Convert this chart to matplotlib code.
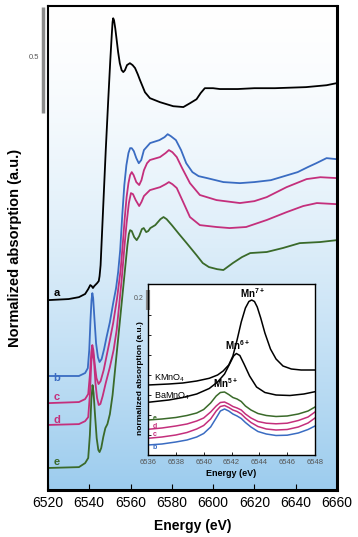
import matplotlib.pyplot as plt
import numpy as np

plt.rcParams['font.family'] = ['Liberation Sans', 'DejaVu Sans']
plt.rcParams['mathtext.default'] = 'regular'

BLUE = '#3a6cc2'
MAGENTA = '#c42f7c'
GREEN = '#3a6a2a'

# main spectra (energy in eV, normalized absorption with vertical offsets)
e_a = [6520, 6530, 6535, 6538, 6539.5, 6540.5, 6541.2, 6541.8, 6542.4, 6542.9,
       6543.8, 6544.6, 6545.0, 6545.5, 6546.8, 6548.0, 6549.2, 6550.2, 6550.9, 6551.3,
       6551.6, 6552.0, 6552.6, 6553.3, 6554.0, 6554.8, 6555.7, 6556.5, 6557.3, 6558.3,
       6559.7, 6561, 6562.2, 6563.5, 6564.6, 6567, 6569.4, 6574.3, 6580.7, 6585.6,
       6588.8, 6592, 6594, 6596, 6600, 6603.3, 6612, 6620, 6630, 6645, 6655, 6660]
mu_a = [0.896, 0.901, 0.910, 0.925, 0.948, 0.967, 0.962, 0.953, 0.962, 0.967,
        0.976, 0.986, 1.009, 1.061, 1.344, 1.604, 1.840, 2.028, 2.146, 2.208,
        2.226, 2.217, 2.179, 2.123, 2.066, 2.014, 1.981, 1.972, 1.981, 2.005,
        2.014, 2.005, 1.991, 1.962, 1.934, 1.877, 1.849, 1.830, 1.811, 1.807,
        1.825, 1.844, 1.873, 1.896, 1.896, 1.892, 1.892, 1.896, 1.896, 1.901, 1.910, 1.920]

e_b = [6520, 6535, 6538, 6539.3, 6540.0, 6540.6, 6541.1, 6541.5, 6541.9, 6542.5,
       6543.3, 6544.2, 6545.0, 6546.0, 6547.2, 6548.4, 6550.0, 6551.6, 6553.0, 6554.0,
       6555.0, 6556.0, 6557.0, 6558.0, 6559.0, 6559.8, 6560.6, 6561.6, 6562.8, 6564.0,
       6565.2, 6566.5, 6569.5, 6574.0, 6576.5, 6578.0, 6579.5, 6582.0, 6584.5, 6587.0,
       6590.0, 6593.0, 6597.0, 6605.0, 6613.0, 6620.0, 6628.0, 6641.0, 6646.0, 6650.0,
       6655.0, 6660.0]
mu_b = [0.538, 0.538, 0.552, 0.575, 0.660, 0.802, 0.896, 0.929, 0.906, 0.811,
        0.693, 0.627, 0.604, 0.618, 0.665, 0.722, 0.792, 0.882, 0.953, 1.028,
        1.132, 1.297, 1.439, 1.533, 1.590, 1.613, 1.613, 1.599, 1.566, 1.542,
        1.557, 1.604, 1.637, 1.651, 1.665, 1.679, 1.670, 1.651, 1.604, 1.542,
        1.500, 1.481, 1.472, 1.453, 1.448, 1.453, 1.462, 1.500, 1.524, 1.542,
        1.566, 1.561]

e_c = [6520, 6535, 6538, 6539.5, 6540.3, 6541.0, 6541.5, 6542.0, 6542.7, 6543.5,
       6544.5, 6545.5, 6547.0, 6548.5, 6550.0, 6551.6, 6553.5, 6555.2, 6556.2, 6557.2,
       6558.1, 6559.0, 6559.8, 6560.6, 6561.5, 6562.8, 6564.2, 6565.3, 6566.5, 6568.0,
       6569.4, 6574.3, 6577.0, 6578.6, 6580.3, 6582.4, 6585.0, 6588.8, 6593.6, 6601.7,
       6613.0, 6620.0, 6626.0, 6635.6, 6645.3, 6652.0, 6659.5]
mu_c = [0.410, 0.415, 0.429, 0.453, 0.542, 0.651, 0.684, 0.660, 0.590, 0.528,
        0.500, 0.514, 0.566, 0.637, 0.708, 0.788, 0.906, 1.038, 1.156, 1.283,
        1.382, 1.448, 1.486, 1.500, 1.486, 1.453, 1.439, 1.462, 1.509, 1.542,
        1.557, 1.571, 1.590, 1.604, 1.594, 1.571, 1.519, 1.448, 1.392, 1.368,
        1.354, 1.363, 1.382, 1.429, 1.467, 1.476, 1.472]

e_d = [6520, 6535, 6538, 6539.5, 6540.3, 6541.0, 6541.7, 6542.3, 6543.0, 6543.8,
       6544.6, 6545.4, 6546.5, 6548.0, 6550.0, 6551.8, 6553.3, 6554.5, 6555.7, 6557.0,
       6558.1, 6559.2, 6560.2, 6561.2, 6562.5, 6564.2, 6565.3, 6566.5, 6569.4, 6574.3,
       6577.0, 6578.6, 6580.3, 6582.4, 6585.5, 6588.8, 6593.6, 6601.7, 6608.0, 6616.0,
       6626.0, 6635.6, 6643.7, 6650.3, 6659.5]
mu_d = [0.307, 0.311, 0.325, 0.344, 0.448, 0.604, 0.660, 0.613, 0.505, 0.434,
        0.401, 0.406, 0.443, 0.505, 0.580, 0.660, 0.755, 0.873, 0.991, 1.142,
        1.259, 1.354, 1.401, 1.396, 1.368, 1.340, 1.359, 1.387, 1.415, 1.429,
        1.443, 1.453, 1.443, 1.425, 1.359, 1.288, 1.250, 1.241, 1.236, 1.241,
        1.274, 1.311, 1.340, 1.354, 1.349]

e_e = [6520, 6535, 6538, 6539.5, 6540.3, 6541.0, 6541.6, 6542.1, 6542.8, 6543.6,
       6544.4, 6545.0, 6545.8, 6546.8, 6547.8, 6548.8, 6550.0, 6551.3, 6552.5, 6553.7,
       6554.9, 6556.1, 6557.3, 6558.5, 6559.2, 6559.8, 6560.6, 6561.8, 6563.0, 6564.2,
       6565.5, 6566.4, 6567.6, 6568.6, 6569.6, 6572.0, 6574.5, 6576.0, 6577.5, 6580.0,
       6583.5, 6587.2, 6592.0, 6595.0, 6598.0, 6602.0, 6605.0, 6609.6, 6614.0, 6618.0,
       6626.0, 6633.9, 6642.0, 6651.8, 6660.0]
mu_e = [0.104, 0.108, 0.127, 0.151, 0.259, 0.424, 0.495, 0.458, 0.354, 0.245,
        0.189, 0.179, 0.198, 0.250, 0.292, 0.311, 0.358, 0.448, 0.566, 0.684,
        0.802, 0.920, 1.038, 1.156, 1.208, 1.226, 1.222, 1.193, 1.179, 1.198,
        1.231, 1.236, 1.217, 1.222, 1.236, 1.250, 1.278, 1.288, 1.278, 1.250,
        1.208, 1.165, 1.108, 1.071, 1.052, 1.042, 1.038, 1.071, 1.099, 1.118,
        1.123, 1.142, 1.165, 1.170, 1.179]

main_series = [(e_a, mu_a, 'black', 'a', 0.929),
               (e_b, mu_b, BLUE, 'b', 0.528),
               (e_c, mu_c, MAGENTA, 'c', 0.439),
               (e_d, mu_d, MAGENTA, 'd', 0.330),
               (e_e, mu_e, GREEN, 'e', 0.132)]

# pre-edge inset
pre_k = [6536, 6537.5, 6538.5, 6539.5, 6540.4, 6541.0, 6541.4, 6541.8, 6542.1, 6542.4,
         6542.7, 6543.0, 6543.25, 6543.45, 6543.65, 6543.85, 6544.1, 6544.4, 6544.8,
         6545.2, 6545.7, 6546.3, 6547, 6548]
kmno4 = [0.70, 0.71, 0.72, 0.74, 0.767, 0.80, 0.84, 0.90, 0.99, 1.15,
         1.33, 1.47, 1.535, 1.55, 1.535, 1.48, 1.37, 1.22, 1.06,
         0.96, 0.89, 0.86, 0.85, 0.85]
pre_ba = [6536, 6537.5, 6538.5, 6539.5, 6540.4, 6541.0, 6541.5, 6541.9, 6542.15, 6542.35,
          6542.6, 6542.9, 6543.3, 6543.8, 6544.4, 6545.2, 6546.2, 6547.2, 6548]
bamno4 = [0.527, 0.55, 0.575, 0.61, 0.665, 0.73, 0.81, 0.92, 0.99, 1.015,
          0.995, 0.91, 0.79, 0.68, 0.625, 0.60, 0.595, 0.61, 0.633]

pre_e = [6536, 6537, 6538, 6538.8, 6539.5, 6540.0, 6540.5, 6540.9, 6541.2, 6541.5,
         6541.8, 6542.1, 6542.4, 6542.7, 6543.0, 6543.4, 6543.9, 6544.5, 6545.2, 6546.0,
         6546.8, 6547.5, 6548]
pre_mu_e = [0.35, 0.36, 0.375, 0.395, 0.42, 0.455, 0.52, 0.59, 0.625, 0.63,
            0.605, 0.575, 0.56, 0.535, 0.49, 0.45, 0.415, 0.395, 0.385, 0.39,
            0.41, 0.44, 0.48]
pre_mu_d = [0.257, 0.27, 0.29, 0.31, 0.34, 0.37, 0.43, 0.49, 0.525, 0.53,
            0.51, 0.485, 0.47, 0.45, 0.41, 0.37, 0.335, 0.318, 0.312, 0.318,
            0.345, 0.38, 0.43]
pre_mu_c = [0.167, 0.18, 0.20, 0.225, 0.26, 0.295, 0.36, 0.44, 0.485, 0.495,
            0.475, 0.45, 0.435, 0.41, 0.37, 0.325, 0.285, 0.26, 0.25, 0.255,
            0.28, 0.32, 0.37]
pre_mu_b = [0.10, 0.11, 0.13, 0.15, 0.18, 0.215, 0.28, 0.37, 0.44, 0.46,
            0.44, 0.41, 0.39, 0.365, 0.325, 0.28, 0.235, 0.21, 0.195, 0.198,
            0.22, 0.255, 0.29]

inset_series = [(pre_mu_b, BLUE, 'b', 0.075),
                (pre_mu_c, MAGENTA, 'c', 0.20),
                (pre_mu_d, MAGENTA, 'd', 0.285),
                (pre_mu_e, GREEN, 'e', 0.365)]

main_ticks = [6520, 6540, 6560, 6580, 6600, 6620, 6640, 6660]
inset_ticks = [6536, 6538, 6540, 6542, 6544, 6546, 6548]

fig = plt.figure(figsize=(3.58, 5.37), dpi=100)
ax = fig.add_axes([0.134, 0.0875, 0.807, 0.901])
ax.set_xlim(6520, 6660)
ax.set_ylim(0, 2.283)

# white to light blue background
s = np.linspace(0, 1, 256)[:, None]
w = s ** 1.5
top = np.array([1.0, 1.0, 1.0])
bot = np.array([156, 204, 238]) / 255
grad = (1 - w)[..., None] * top + w[..., None] * bot
ax.imshow(grad, extent=[0, 1, 0, 1], transform=ax.transAxes, aspect='auto', zorder=0)

for en, mu, col, lab, ly in main_series:
    ax.plot(en, mu, color=col, lw=1.3, zorder=2)
    ax.text(6524.4, ly, lab, color=col, fontsize=8, fontweight='bold', ha='center', va='center')

# 0.5 scale bar
x0, x1 = ax.get_xlim()
y0, y1 = ax.get_ylim()
bar_x = x0 - (x1 - x0) * 0.017
ax.plot([bar_x, bar_x], [y1 - 0.005, y1 - 0.505], color='#8a8a8a', lw=2.5, clip_on=False,
        solid_capstyle='butt')
ax.text(x0 - (x1 - x0) * 0.05, y1 - 0.24, '0.5', fontsize=5.5, color='#555555',
        ha='center', va='center')

ax.set_xticks(main_ticks)
ax.set_xticklabels([str(t) for t in main_ticks])
ax.set_yticks([])
ax.tick_params(axis='x', direction='in', length=4, width=0.8, labelsize=10, pad=4)
for sp in ax.spines.values():
    sp.set_linewidth(1.5)
ax.spines['right'].set_linewidth(2.2)
ax.spines['bottom'].set_linewidth(2.2)
ax.set_xlabel('Energy (eV)', fontsize=10, fontweight='bold', labelpad=7)
fig.text(15 / 358, 1 - 248 / 537, 'Normalized absorption (a.u.)', rotation=90,
         fontsize=10.5, fontweight='bold', ha='center', va='center')

# inset
ins = fig.add_axes([148 / 358, 82 / 537, 167 / 358, 171 / 537])
ins.set_facecolor('white')
ins.set_xlim(6536, 6548)
ins.set_ylim(0, 1.71)
ins.plot(pre_k, kmno4, color='black', lw=1.1)
ins.plot(pre_ba, bamno4, color='black', lw=1.1)
for mu, col, lab, ly in inset_series:
    ins.plot(pre_e, mu, color=col, lw=1.1)
    ins.text(6536.5, ly, lab, color=col, fontsize=5, fontweight='bold', ha='center', va='center')
ins.text(6536.45, 0.77, 'KMnO$_4$', fontsize=6.5, ha='left', va='center')
ins.text(6536.45, 0.59, 'BaMnO$_4$', fontsize=6.5, ha='left', va='center')
ins.text(6543.5, 1.62, 'Mn$^{7+}$', fontsize=7, fontweight='bold', ha='center', va='center')
ins.text(6542.4, 1.10, 'Mn$^{6+}$', fontsize=7, fontweight='bold', ha='center', va='center')
ins.text(6541.6, 0.72, 'Mn$^{5+}$', fontsize=7, fontweight='bold', ha='center', va='center')

ix0, ix1 = ins.get_xlim()
iy0, iy1 = ins.get_ylim()
ins.plot([ix0, ix0], [iy1 - 0.06, iy1 - 0.26], color='#8a8a8a', lw=3, clip_on=False,
         solid_capstyle='butt')
ins.text(ix0 - (ix1 - ix0) * 0.055, iy1 - 0.15, '0.2', fontsize=5, color='#555555',
         ha='center', va='center')

ins.set_xticks(inset_ticks)
ins.set_xticklabels([str(t) for t in inset_ticks])
ins.set_yticks(np.arange(0.2, 1.6, 0.2))
ins.set_yticklabels([])
ins.tick_params(direction='in', length=2.5, width=0.6, labelsize=5.5, labelcolor='#555555', pad=3)
for sp in ins.spines.values():
    sp.set_linewidth(1.0)
ins.set_xlabel('Energy (eV)', fontsize=6.5, fontweight='bold', labelpad=2)
fig.text(141 / 358, 1 - 378 / 537, 'normalized absorption (a.u.)', rotation=90,
         fontsize=6, fontweight='bold', ha='center', va='center')

fig.savefig('out.png', dpi=100)
